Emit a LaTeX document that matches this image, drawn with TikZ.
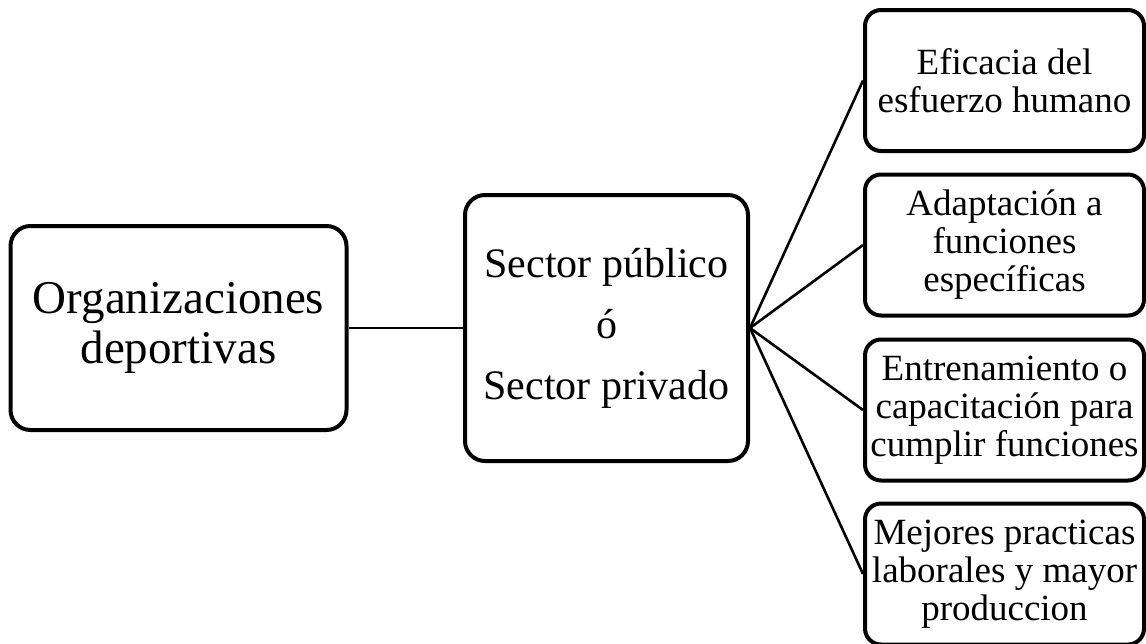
\documentclass[tikz,border=0pt]{standalone}
\usepackage{fontspec}
\setmainfont{Liberation Serif}

\begin{document}
\begin{tikzpicture}[x=1pt, y=-1pt,
    caja/.style={draw, line width=4pt, rounded corners=20pt, align=center, inner sep=0pt},
    cajita/.style={caja, rounded corners=16pt, minimum width=279pt, minimum height=141pt,
                   font=\fontsize{37}{38}\selectfont},
    linea/.style={line width=2.6pt}]

    % marco de la figura
    \useasboundingbox (0,0) rectangle (1146,643);

    % caja de la izquierda
    \node[caja, minimum width=336pt, minimum height=204pt,
          font=\fontsize{47}{50}\selectfont] (org) at (178.5,328) {Organizaciones\\deportivas};

    % caja del centro
    \node[caja, minimum width=283pt, minimum height=266pt,
          font=\fontsize{42}{61}\selectfont] (sector) at (606.5,328) {Sector público\\ó\\Sector privado};

    % las cuatro cajas de la derecha
    \node[cajita] (eficacia) at (1004.5,80.5) {Eficacia del\\esfuerzo humano};
    \node[cajita] (adaptacion) at (1004.5,245) {Adaptación a\\funciones\\específicas};
    \node[cajita] (entrenamiento) at (1004.5,410) {Entrenamiento o\\capacitación para\\cumplir funciones};
    \node[cajita] (practicas) at (1004.5,574) {Mejores practicas\\laborales y mayor\\produccion};

    % lineas
    \draw[linea] (org.east) -- (sector.west);
    \foreach \destino in {eficacia, adaptacion, entrenamiento, practicas}
        \draw[linea] (sector.east) -- (\destino.west);

\end{tikzpicture}
\end{document}
